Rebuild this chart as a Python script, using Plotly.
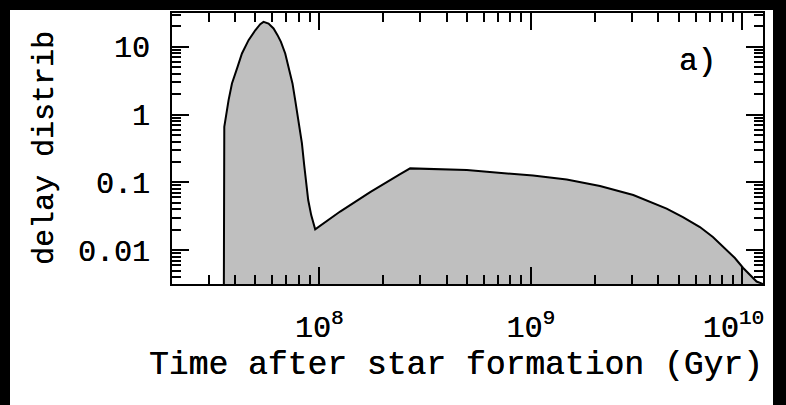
import plotly.graph_objects as go

# Data (time after star formation, delay distribution)
time_vals = [3.534e7, 3.534e7, 3.561e7, 3.731e7, 3.871e7, 4.114e7, 4.315e7,
             4.637e7, 4.987e7, 5.265e7, 5.458e7, 5.763e7, 6.085e7, 6.356e7,
             6.595e7, 6.910e7, 7.163e7, 7.479e7, 7.702e7, 8.045e7, 8.285e7,
             8.495e7, 8.681e7, 8.873e7, 9.167e7, 9.574e7,
             1.256e8, 1.741e8, 2.412e8, 2.690e8,
             4.982e8, 1.024e9, 1.477e9, 2.122e9, 3.048e9, 4.381e9, 5.231e9,
             6.293e9, 7.248e9, 8.412e9, 9.208e9, 1.0077e10, 1.0836e10,
             1.1659e10, 1.2515e10, 1.30e10]
delay_vals = [1e-4, 0.498, 0.661, 1.636, 2.886, 5.07, 7.99,
              12.56, 17.6, 21.6, 23.4, 22.1, 18.7, 14.9,
              11.85, 7.99, 5.07, 2.886, 1.636, 0.661, 0.380,
              0.180, 0.0912, 0.0548, 0.0329, 0.0203,
              0.0371, 0.0719, 0.1325, 0.1609,
              0.1518, 0.126, 0.110, 0.0882, 0.0650, 0.0411, 0.0308,
              0.0219, 0.0156, 0.01003, 0.00765, 0.00545, 0.00430,
              0.00344, 0.00316, 1e-4]

x_major = [1e8, 1e9, 1e10]
x_major_text = ["10<sup>8</sup>", "10<sup>9</sup>", "10<sup>10</sup>&nbsp;"]
x_minor = [m * 10 ** e for e in (7, 8, 9) for m in range(2, 10)]
y_major = [0.01, 0.1, 1, 10]
y_major_text = ["0.01", "0.1", "1", "10"]
y_minor = [m * 10.0 ** e for e in (-3, -2, -1, 0, 1) for m in range(2, 10)]

W, H = 786, 405
L, R, T, B = 172, 23, 13, 121
pw = W - L - R
ph = H - T - B

def px_to_paper_x(px):
    return (px - L) / pw

def px_to_paper_y(py):
    return (H - B - py) / ph

FONT = "Liberation Mono"
TICK_FS = 30
SHADOW = "0.3px 0px 0px #000"

def font(size):
    return dict(family=FONT, size=size, color="black", shadow=SHADOW)

fig = go.Figure()
fig.add_trace(go.Scatter(
    x=time_vals, y=delay_vals, mode="lines",
    line=dict(color="black", width=2),
    fill="toself", fillcolor="#bfbfbf",
    hoverinfo="skip", showlegend=False,
))

axis_common = dict(
    type="log", showgrid=False, zeroline=False, automargin=False,
    showline=True, linecolor="black", linewidth=2, mirror="allticks",
    ticks="inside", ticklen=17, tickwidth=2, tickcolor="black",
    tickfont=font(TICK_FS),
)

fig.update_xaxes(
    **axis_common,
    range=[7.3045, 10.097],
    tickmode="array", tickvals=x_major, ticktext=x_major_text,
    minor=dict(tickmode="array", tickvals=x_minor, ticks="inside",
               ticklen=9, tickwidth=1.5, tickcolor="black"),
    ticklabelstandoff=15,
)
fig.update_yaxes(
    **axis_common,
    range=[-2.5, 1.5],
    tickmode="array", tickvals=y_major, ticktext=y_major_text,
    minor=dict(tickmode="array", tickvals=y_minor, ticks="inside",
               ticklen=9, tickwidth=1.5, tickcolor="black"),
    ticklabelstandoff=14,
)

fig.add_shape(type="rect", xref="paper", yref="paper",
              x0=px_to_paper_x(10), x1=px_to_paper_x(773),
              y0=px_to_paper_y(406), y1=px_to_paper_y(10),
              fillcolor="white", line=dict(width=0), layer="below")

fig.add_annotation(text="delay distrib", xref="paper", yref="paper",
                   x=px_to_paper_x(45), y=px_to_paper_y(148), textangle=-90,
                   showarrow=False, xanchor="center", yanchor="middle",
                   font=font(30))
fig.add_annotation(text="Time after star formation (Gyr)", xref="paper", yref="paper",
                   x=px_to_paper_x(456), y=px_to_paper_y(365),
                   showarrow=False, xanchor="center", yanchor="middle",
                   font=font(33))
fig.add_annotation(text="a)", xref="paper", yref="paper",
                   x=px_to_paper_x(697), y=px_to_paper_y(61),
                   showarrow=False, xanchor="center", yanchor="middle",
                   font=font(31))

fig.update_layout(
    width=W, height=H,
    margin=dict(l=L, r=R, t=T, b=B, pad=0, autoexpand=False),
    paper_bgcolor="black", plot_bgcolor="white",
    showlegend=False,
)

fig.write_html("out.html",
               config={"displayModeBar": False},
               post_script="document.body.style.margin='0px';"
                           "document.body.style.overflow='hidden';")
